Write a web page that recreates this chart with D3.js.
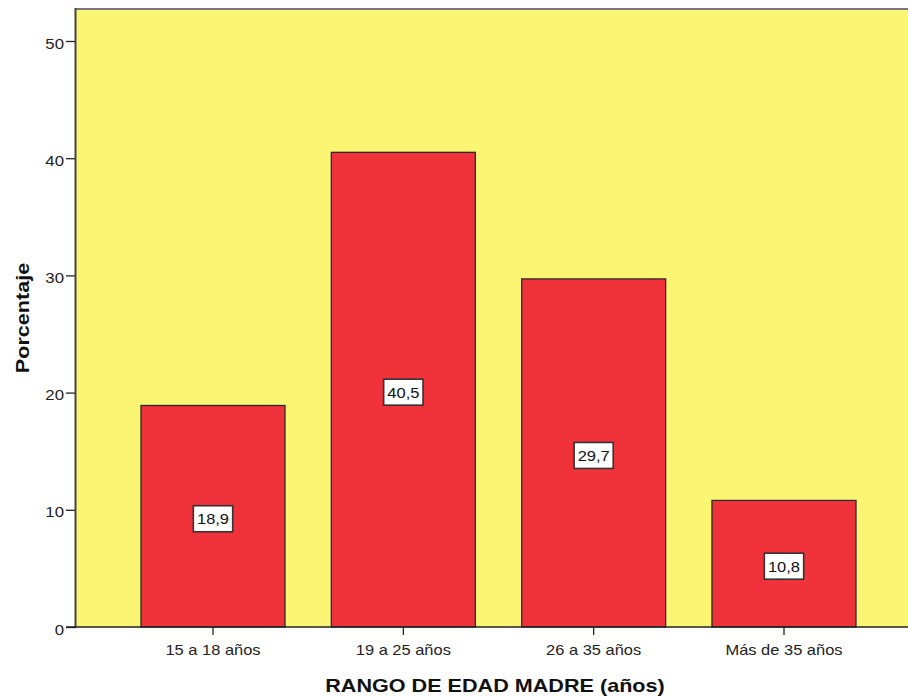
<!DOCTYPE html>
<html>
<head>
<meta charset="utf-8">
<script src="https://cdn.jsdelivr.net/npm/d3@7"></script>
<style>
  html, body { margin: 0; padding: 0; background: #fff; }
  svg { display: block; }
  text { font-family: "Liberation Sans", Arial, sans-serif; }
</style>
</head>
<body>
<script>
// Age ranges of mothers and their share (%)
const categories = ["15 a 18 años", "19 a 25 años", "26 a 35 años", "Más de 35 años"];
const percentages = [18.9, 40.5, 29.7, 10.8];
const yTicks = [0, 10, 20, 30, 40, 50];

const W = 908, H = 696;
const plotLeft = 76, plotTop = 9, plotBottom = 627;
const stretch = 1.2; // wide text rendering along the baseline

const svg = d3.select("body").append("svg").attr("width", W).attr("height", H);

const x = d3.scaleBand()
  .domain(categories)
  .range([plotLeft, 921])
  .paddingInner(0.2434)
  .paddingOuter(0.3415);

const y = d3.scaleLinear().domain([0, 50]).range([plotBottom, 41]);

// plot background
svg.append("rect")
  .attr("x", plotLeft).attr("y", plotTop)
  .attr("width", W - plotLeft).attr("height", plotBottom - plotTop)
  .attr("fill", "#FAF572");

// bars
svg.append("g").selectAll("rect")
  .data(percentages)
  .join("rect")
  .attr("x", (d, i) => x(categories[i]))
  .attr("y", d => y(d))
  .attr("width", x.bandwidth())
  .attr("height", d => y(0) - y(d))
  .attr("fill", "#F0323A")
  .attr("stroke", "#2a2a2a")
  .attr("stroke-width", 1.3);

// top frame line
svg.append("line")
  .attr("x1", plotLeft).attr("x2", W)
  .attr("y1", plotTop).attr("y2", plotTop)
  .attr("stroke", "#777").attr("stroke-width", 2);

// y axis
const yAxis = svg.append("g")
  .attr("transform", `translate(${plotLeft},0)`)
  .call(d3.axisLeft(y).tickValues(yTicks).tickSize(10).tickSizeOuter(0));
yAxis.select(".domain").remove();
yAxis.append("line")
  .attr("x1", -0.5).attr("x2", -0.5).attr("y1", plotTop - 1).attr("y2", plotBottom)
  .attr("stroke", "#444").attr("stroke-width", 2);
yAxis.selectAll(".tick line").attr("stroke", "#222").attr("stroke-width", 1.3);
yAxis.selectAll(".tick text")
  .attr("x", null)
  .attr("dy", null)
  .attr("transform", `translate(-12,7) scale(${stretch},1)`)
  .attr("fill", "#222").style("font-size", "14px");

// x axis
const xAxis = svg.append("g")
  .attr("transform", `translate(0,${plotBottom})`)
  .call(d3.axisBottom(x).tickSize(8).tickSizeOuter(0));
xAxis.select(".domain").remove();
xAxis.append("line")
  .attr("x1", plotLeft - 10).attr("x2", W).attr("y1", 0).attr("y2", 0)
  .attr("stroke", "#222").attr("stroke-width", 1.6);
xAxis.selectAll(".tick line").attr("stroke", "#222").attr("stroke-width", 1.3);
xAxis.selectAll(".tick text")
  .attr("y", null).attr("dy", null)
  .attr("transform", `translate(0,28) scale(${stretch * 0.98},1)`)
  .attr("fill", "#222").style("font-size", "14px");

// value labels in boxes at mid-height of each bar
const fmt = v => v.toFixed(1).replace(".", ",");
const lab = svg.append("g").selectAll("g")
  .data(percentages)
  .join("g")
  .attr("transform", (d, i) => `translate(${x(categories[i]) + x.bandwidth() / 2},${y(d / 2) + 2.5})`);
lab.append("text")
  .attr("text-anchor", "middle")
  .attr("transform", "translate(0,5.5) scale(1.1,1)")
  .attr("fill", "#111")
  .style("font-size", "15px")
  .text(fmt);
lab.each(function () {
  const g = d3.select(this);
  const b = g.select("text").node().getBBox();
  const w = b.width * 1.1 + 7;
  g.insert("rect", "text")
    .attr("x", -w / 2).attr("y", -13)
    .attr("width", w).attr("height", 26)
    .attr("fill", "#fff").attr("stroke", "#333").attr("stroke-width", 1.6);
});

// axis titles
svg.append("text")
  .attr("transform", `translate(29,318) rotate(-90) scale(${stretch},1)`)
  .attr("text-anchor", "middle")
  .attr("fill", "#111")
  .style("font-size", "18px").style("font-weight", "bold")
  .text("Porcentaje");

svg.append("text")
  .attr("transform", `translate(495,692) scale(${stretch},1)`)
  .attr("text-anchor", "middle")
  .attr("fill", "#111")
  .style("font-size", "18px").style("font-weight", "bold")
  .text("RANGO DE EDAD MADRE (años)");
</script>
</body>
</html>
